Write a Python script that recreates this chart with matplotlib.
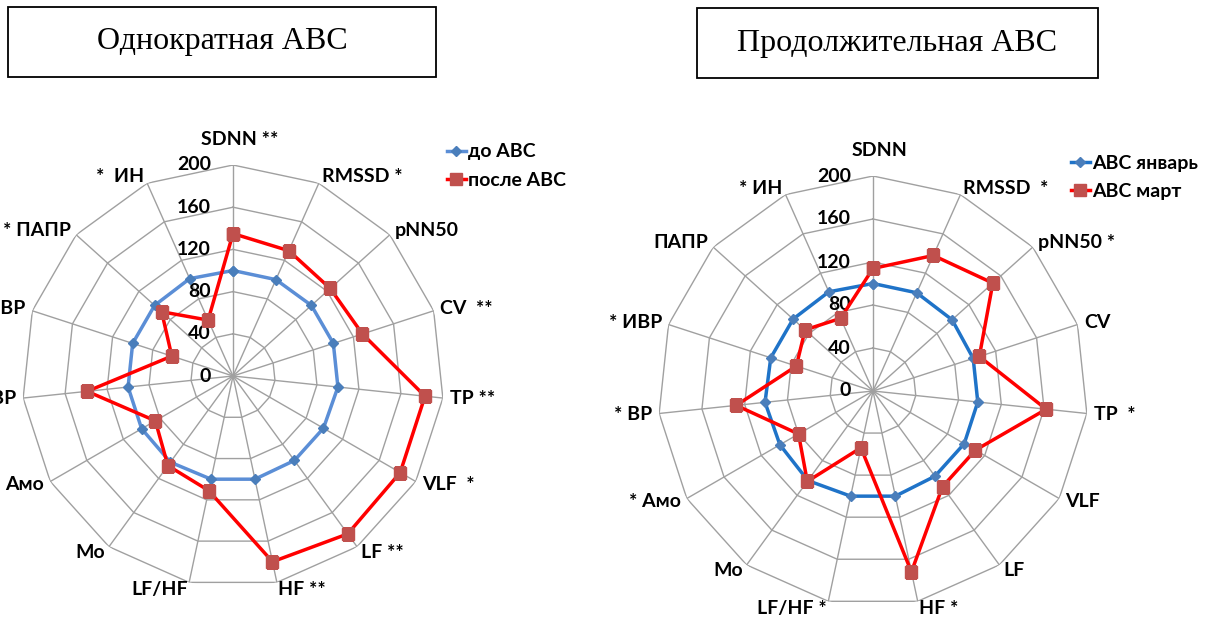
import matplotlib.pyplot as plt
import numpy as np
from matplotlib.patches import Rectangle

# axis names, clockwise from the top
labels_left = ['SDNN **', 'RMSSD *', 'pNN50', 'CV  **', 'TP **', 'VLF  *', 'LF **',
               'HF **', 'LF/HF', 'Mo', 'Амо', '* ВР', '* ИВР', '* ПАПР', '*  ИН']
labels_right = ['SDNN', 'RMSSD  *', 'pNN50 *', 'CV', 'TP  *', 'VLF', 'LF',
                'HF *', 'LF/HF *', 'Mo', '* Амо', '* ВР', '* ИВР', 'ПАПР', '* ИН']

# left chart - single session
before = [100, 100, 100, 100, 100, 99, 99, 100, 100, 101, 100, 100, 100, 100, 101]
after = [135, 130, 124, 129, 183, 183, 185, 180, 111, 105, 85, 139, 61, 91, 58]

# right chart - long course
january = [100, 100, 99, 98, 98, 98, 98, 100, 100, 103, 100, 101, 100, 100, 101]
march = [114, 138, 150, 104, 162, 110, 110, 172, 54, 104, 80, 128, 75, 85, 74]

rings = [40, 80, 120, 160, 200]
ring_labels = ['0', '40', '80', '120', '160', '200']

FONT = 'Lato'
W, H = 1213, 621


def radar(rect, labels, s1, s2, names, blue, leg_xy):
    ax = fig.add_axes(rect, projection='polar')
    ax.set_theta_zero_location('N')
    ax.set_theta_direction(-1)
    ax.set_ylim(0, 200)
    ax.grid(False)
    ax.spines['polar'].set_visible(False)
    ax.set_xticks([])
    ax.set_yticks([])
    ax.patch.set_alpha(0)

    n = len(labels)
    th = np.linspace(0, 2 * np.pi, n, endpoint=False)
    th_c = np.append(th, th[0])

    # polygon grid
    for r in rings:
        ax.plot(th_c, [r] * (n + 1), color='#a0a0a0', lw=1.0, zorder=1)
    for t in th:
        ax.plot([t, t], [0, 200], color='#a0a0a0', lw=1.0, zorder=1)

    # radial values along the first spoke
    for i, s in enumerate(ring_labels):
        ax.annotate(s, xy=(0, i * 40), xytext=(-16, 0), textcoords='offset points',
                    ha='right', va='center', fontsize=14, fontweight='bold',
                    family=FONT)

    # axis labels
    for t, lab in zip(th, labels):
        sx, cy = np.sin(t), np.cos(t)
        ha = 'left' if sx > 0.05 else ('right' if sx < -0.05 else 'center')
        if cy > 0.99:
            ax.annotate(lab, xy=(t, 200), xytext=(5, 12), textcoords='offset points',
                        ha='center', va='bottom', fontsize=14, fontweight='bold',
                        family=FONT, annotation_clip=False)
            continue
        ax.annotate(lab, xy=(t, 200), xytext=(5 * sx, 5 * cy),
                    textcoords='offset points', ha=ha, va='center', fontsize=14,
                    fontweight='bold', family=FONT, annotation_clip=False)

    l1, = ax.plot(th_c, s1 + s1[:1], color=blue, lw=2.5, marker='D', ms=5,
                  mfc='#4a7ebb', mec='#4a7ebb', zorder=3)
    l2, = ax.plot(th_c, s2 + s2[:1], color='#ff0000', lw=2.5, marker='s', ms=9,
                  mfc='#c0504d', mec='#c0504d', zorder=4)
    fig.legend([l1, l2], names, loc='upper left', bbox_to_anchor=leg_xy,
               frameon=False, handlelength=1.0, handletextpad=0.1,
               labelspacing=0.6, prop={'family': FONT, 'weight': 'bold', 'size': 14})
    return ax


fig = plt.figure(figsize=(W / 100, H / 100), dpi=100)


def rect_for(cx, cy, r):
    return [(cx - r) / W, (H - cy - r) / H, 2 * r / W, 2 * r / H]


radar(rect_for(233, 376, 211), labels_left, before, after,
      ['до АВС', 'после АВС'], '#5b8ed6', (429 / W, 1 - 126 / H))
radar(rect_for(873, 391, 215), labels_right, january, march,
      ['АВС январь', 'АВС март'], '#1f73c8', (1053 / W, 1 - 137 / H))

# title boxes
for x0, x1, y0, y1, title in [(8, 436, 7, 77, 'Однократная АВС'),
                              (697, 1098, 8, 78, 'Продолжительная АВС')]:
    fig.patches.append(Rectangle((x0 / W, 1 - y1 / H), (x1 - x0) / W, (y1 - y0) / H,
                                 transform=fig.transFigure, fill=False,
                                 edgecolor='black', lw=1.3))
    fig.text((x0 + x1) / 2 / W, 1 - (y0 + y1) / 2 / H, title, ha='center',
             va='center', fontsize=23, family='Liberation Serif')

fig.savefig('out.png', dpi=100)
